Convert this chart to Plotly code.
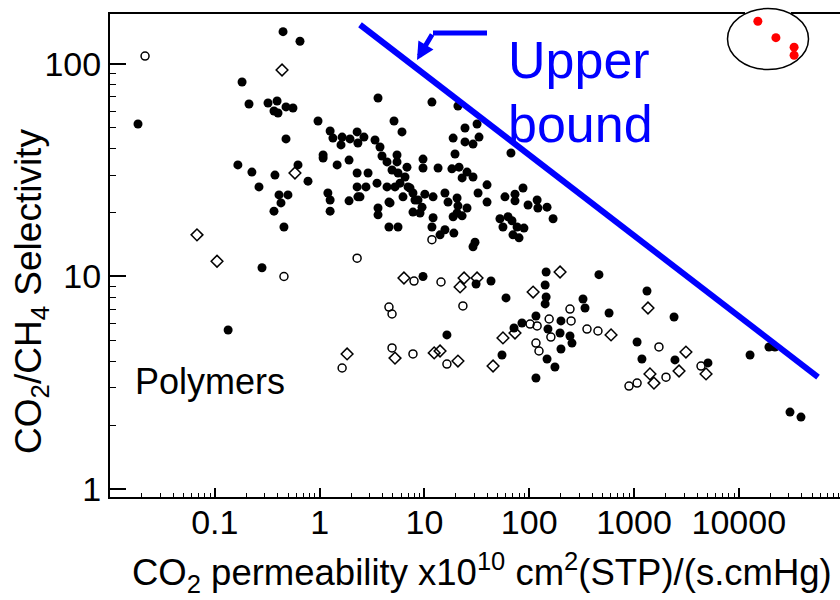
import plotly.graph_objects as go

# ---- data ----
filled_x = [0.448, 0.650, 0.0185, 0.182, 0.212, 0.322, 0.393, 0.367, 0.401, 0.478, 0.557, 0.478,
            0.166, 0.226, 0.264, 0.375, 0.410, 0.499, 0.428, 0.367, 0.457, 0.622, 0.775, 0.282, 0.134,
            0.966, 1.26, 1.34, 1.64, 1.60, 1.95, 2.28, 2.32, 2.65, 3.61, 3.38, 3.77, 3.94, 5.13, 6.11,
            1.08, 1.08, 1.47, 1.91, 2.28, 2.90, 4.40, 5.48, 5.48, 2.28, 2.77, 3.53, 4.40,
            1.20, 1.26, 1.26, 1.91, 2.32, 3.61, 3.61, 4.59, 4.59, 5.60, 4.91, 5.60, 6.82, 6.53, 5.85,
            6.98, 7.78, 8.13, 6.25, 7.78, 8.69, 9.08, 5.24, 7.29, 2.43, 4.70,
            11.8, 20.9, 24.4, 31.8, 18.8, 24.4, 29.1, 33.2, 19.6, 67.0, 9.70, 9.70, 13.5, 18.3, 21.4,
            22.9, 25.5, 29.1, 39.6, 10.1, 12.1, 15.7, 16.8, 20.5, 20.9, 25.5, 32.5, 39.6, 58.7, 73.2,
            73.2, 87.3, 97.5, 119, 121, 148, 169, 9.49, 12.1, 18.8, 20.5, 22.9, 52.6, 62.8, 68.5, 56.2,
            76.6, 70.0, 80.0, 89.1, 11.8, 14.1, 15.7, 19.1, 29.1, 30.4,
            9.70, 31.1, 43.2, 60.1, 145, 142, 145, 142, 463, 1330, 326, 341, 116, 201, 85.3, 71.6,
            151, 197, 245, 256, 16.4, 55.0, 201, 148, 176, 116, 578, 2410, 1070, 1190, 2460, 5080,
            12800, 19400, 22100, 30800, 39200]
filled_y = [142, 128, 52.2, 82.3, 64.8, 65.5, 67.0, 60.1, 58.8, 62.8, 62.1, 44.4,
            33.5, 31.0, 26.4, 30.0, 24.2, 24.2, 22.2, 20.3, 17.1, 33.5, 28.1, 11.0, 5.60,
            53.9, 48.4, 44.8, 45.3, 41.6, 44.4, 47.9, 42.5, 45.3, 69.2, 43.9, 40.7, 36.9, 53.9, 47.9,
            37.3, 36.1, 33.5, 35.3, 30.7, 30.7, 34.6, 37.3, 34.6, 26.4, 26.4, 27.5, 26.4,
            24.7, 22.9, 20.3, 22.7, 23.7, 21.0, 19.5, 22.4, 17.1, 17.1, 31.7, 30.7, 32.7, 29.4, 27.5,
            26.4, 24.7, 22.9, 23.7, 20.1, 22.9, 19.9, 26.4, 26.1, 23.7, 22.2,
            66.2, 63.4, 50.0, 52.2, 44.8, 43.0, 42.0, 45.3, 37.7, 38.1, 35.7, 32.4, 32.4, 32.1, 32.7,
            29.1, 31.0, 29.4, 27.0, 24.4, 23.7, 24.7, 22.4, 23.4, 21.5, 21.0, 24.7, 22.4, 23.7, 24.4,
            22.7, 26.1, 21.7, 22.9, 21.0, 21.2, 18.7, 21.2, 18.9, 19.1, 19.9, 19.3, 18.7, 19.1, 18.3, 17.1,
            17.1, 15.7, 15.2, 16.9, 17.1, 15.7, 16.6, 16.0, 13.8, 14.5,
            10.0, 9.22, 9.52, 7.93, 10.5, 9.12, 8.01, 7.43, 10.2, 8.55, 7.84, 7.11, 6.52, 6.18, 6.04, 5.72,
            5.66, 5.42, 5.25, 4.86, 5.31, 4.27, 4.56, 4.09, 3.75, 3.33, 6.73, 6.45, 4.92, 4.09, 4.05, 3.92,
            4.27, 4.66, 4.66, 2.30, 2.18]

circle_x = [0.0216, 0.457, 2.28, 7.96, 14.4, 4.59, 4.91, 23.3, 245, 251, 155, 102, 119, 356, 453,
            4.91, 7.78, 16.4, 116, 124, 1730, 2020, 896, 1070, 1.64, 11.8, 4360, 161]
circle_y = [109, 10.0, 12.2, 9.52, 9.42, 7.18, 6.66, 7.27, 7.03, 6.18, 6.31, 5.97, 5.85, 5.66, 5.54,
            4.61, 4.32, 3.87, 4.86, 4.46, 4.66, 3.36, 3.05, 3.15, 3.71, 14.9, 3.79, 5.19]

diamond_x = [0.438, 0.582, 0.0676, 0.105, 6.38, 21.9, 23.9, 31.8, 197, 109, 73.2, 56.2, 5.24, 12.4,
             14.1, 20.9, 45.2, 1.83, 1360, 604, 3130, 4870, 2690, 1420, 1550]
diamond_y = [93.7, 30.7, 15.7, 11.8, 9.84, 8.93, 9.84, 9.84, 10.5, 8.45, 5.42, 5.14, 4.13, 4.37,
             4.46, 4.00, 3.79, 4.32, 7.11, 5.31, 4.41, 3.48, 3.59, 3.48, 3.15]

red_x = [15200, 22600, 33700, 33700]
red_y = [159, 133, 120, 110]

bound_x = [2.43, 57000]
bound_y = [153, 3.36]

x_tickvals = [0.1, 1, 10, 100, 1000, 10000]
x_ticktext = ["0.1", "1", "10", "100", "1000", "10000"]
y_tickvals = [1, 10, 100]
y_ticktext = ["1", "10", "100"]

FONT = "Liberation Sans, Arial, sans-serif"

# geometry of the plot area (pixels)
W, H = 840, 600
L, R, T, B = 110, 0, 14, 103
PW, PH = W - L - R, H - T - B


def px(x):
    return (x - L) / PW


def py(y):
    return (H - B - y) / PH


x_minor = [k * 10.0 ** d for d in range(-2, 5) for k in range(2, 10)]
y_minor = [k * 10.0 ** d for d in range(0, 3) for k in range(2, 10)]

fig = go.Figure()
fig.add_trace(go.Scatter(x=filled_x, y=filled_y, mode="markers",
                         marker=dict(symbol="circle", size=9, color="black"),
                         showlegend=False))
fig.add_trace(go.Scatter(x=circle_x, y=circle_y, mode="markers",
                         marker=dict(symbol="circle-open", size=8, color="black",
                                     line=dict(width=1.5, color="black")),
                         showlegend=False))
fig.add_trace(go.Scatter(x=diamond_x, y=diamond_y, mode="markers",
                         marker=dict(symbol="diamond-open", size=9, color="black",
                                     line=dict(width=1.5, color="black")),
                         showlegend=False))
fig.add_trace(go.Scatter(x=bound_x, y=bound_y, mode="lines",
                         line=dict(color="#0000FF", width=6), showlegend=False))
fig.add_trace(go.Scatter(x=red_x, y=red_y, mode="markers",
                         marker=dict(symbol="circle", size=9, color="#FF0000"),
                         showlegend=False, cliponaxis=False))

fig.update_xaxes(type="log", range=[-2, -2 + PW / 104.8],
                 showline=True, linecolor="black", linewidth=2, mirror=True,
                 ticks="inside", ticklen=9, tickwidth=1.5, tickcolor="black",
                 tickvals=x_tickvals, ticktext=x_ticktext, ticklabelstandoff=-6,
                 tickfont=dict(family=FONT, size=34, color="black"),
                 minor=dict(ticks="inside", ticklen=4, tickwidth=1, tickcolor="black",
                            tickvals=x_minor, showgrid=False),
                 showgrid=False, zeroline=False)
fig.update_yaxes(type="log", range=[-0.0377, 2.2353],
                 showline=True, linecolor="black", linewidth=2, mirror=False,
                 ticks="inside", ticklen=16, tickwidth=1.5, tickcolor="black",
                 tickvals=y_tickvals, ticktext=y_ticktext,
                 tickfont=dict(family=FONT, size=34, color="black"),
                 minor=dict(ticks="inside", ticklen=6, tickwidth=1, tickcolor="black",
                            tickvals=y_minor, showgrid=False),
                 showgrid=False, zeroline=False)

shapes = [
    # hide frame line inside the ellipse
    dict(type="line", xref="paper", yref="paper", x0=px(745), x1=px(791), y0=py(14), y1=py(14),
         line=dict(color="white", width=4), layer="above"),
    dict(type="circle", xref="paper", yref="paper", x0=px(727.5), x1=px(808.5),
         y0=py(69.5), y1=py(8.5), line=dict(color="black", width=1.5), layer="above"),
    dict(type="line", xref="paper", yref="paper", x0=px(433), x1=px(487), y0=py(33), y1=py(33),
         line=dict(color="#0000FF", width=5), layer="above"),
]

annotations = [
    dict(xref="paper", yref="paper", x=px(417), y=py(60), ax=16, ay=-27, text="",
         showarrow=True, arrowhead=2, arrowsize=0.7, arrowwidth=5, arrowcolor="#0000FF"),
    dict(xref="paper", yref="paper", x=px(506), y=py(60), xanchor="left", yanchor="middle",
         text="Upper", showarrow=False, font=dict(family=FONT, size=52, color="#0000FF")),
    dict(xref="paper", yref="paper", x=px(506), y=py(124), xanchor="left", yanchor="middle",
         text="bound", showarrow=False, font=dict(family=FONT, size=52, color="#0000FF")),
    dict(xref="paper", yref="paper", x=px(133), y=py(381), xanchor="left", yanchor="middle",
         text="Polymers", showarrow=False, font=dict(family=FONT, size=36, color="black")),
    dict(xref="paper", yref="paper", x=px(482), y=py(572), xanchor="center", yanchor="middle",
         text="CO<sub>2</sub> permeability x10<sup>10</sup> cm<sup>2</sup>(STP)/(s.cmHg)",
         showarrow=False, font=dict(family=FONT, size=36.5, color="black")),
    dict(xref="paper", yref="paper", x=px(31), y=py(292), xanchor="center", yanchor="middle",
         text="CO<sub>2</sub>/CH<sub>4</sub> Selectivity", textangle=-90,
         showarrow=False, font=dict(family=FONT, size=37, color="black")),
]

fig.update_layout(width=W, height=H, margin=dict(l=L, r=R, t=T, b=B, pad=0),
                  paper_bgcolor="white", plot_bgcolor="white",
                  shapes=shapes, annotations=annotations, showlegend=False)

fig.write_html("out.html")
